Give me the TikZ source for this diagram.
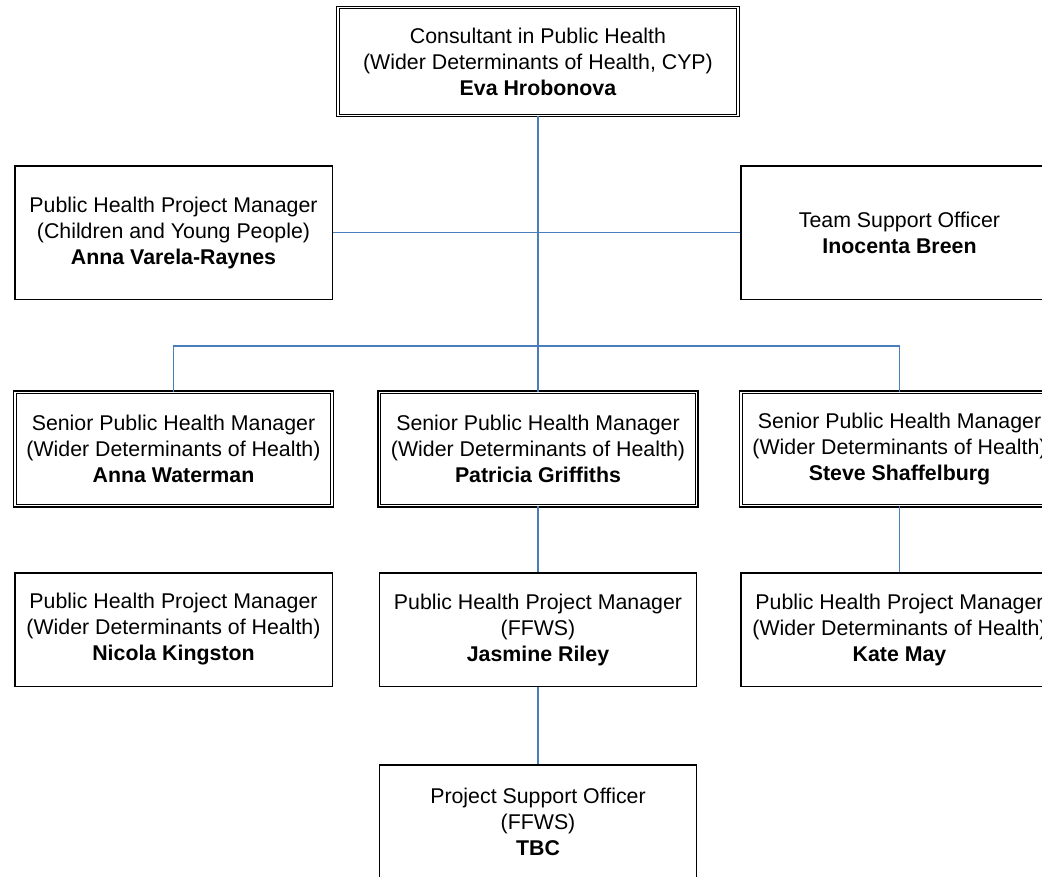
\documentclass[tikz,border=0pt]{standalone}
\usepackage{fontspec}
\setmainfont{Liberation Sans}
\usetikzlibrary{positioning}
\definecolor{linkblue}{HTML}{4A7EBB}
\tikzset{
  post/.style={draw=black, line width=1pt, fill=white, align=center,
    minimum width=238pt, minimum height=85pt, inner sep=0pt,
    font=\fontsize{16}{19.5}\selectfont},
  headpost/.style={post, double, line width=0.9pt, double distance=1.1pt},
  link/.style={draw=linkblue, line width=1pt}
}
\begin{document}
\begin{tikzpicture}[x=0.75pt, y=-0.75pt]
        \useasboundingbox (0,0) rectangle (1042,876);
        \clip (0,0) rectangle (1042,876);

        % consultant
        \node[headpost, minimum width=300pt, minimum height=81pt] (cons) at (538,61.5)
          {Consultant in Public Health\\(Wider Determinants of Health, CYP)\\\textbf{Eva Hrobonova}};

        % second row
        \node[post, minimum height=100pt] (cyp) at (173.5,232.5)
          {Public Health Project Manager\\(Children and Young People)\\\textbf{Anna Varela-Raynes}};
        \node[post, minimum height=100pt] (tso) at (899.5,232.5)
          {Team Support Officer\\\textbf{Inocenta Breen}};

        % senior managers
        \node[headpost] (senA) at (173.5,449) {Senior Public Health Manager\\(Wider Determinants of Health)\\\textbf{Anna Waterman}};
        \node[headpost] (senB) at (538,449) {Senior Public Health Manager\\(Wider Determinants of Health)\\\textbf{Patricia Griffiths}};
        \node[headpost] (senC) at (899.5,449) {Senior Public Health Manager\\(Wider Determinants of Health)\\\textbf{Steve Shaffelburg}};

        % project managers
        \node[post] (pmA) at (173.5,629.5) {Public Health Project Manager\\(Wider Determinants of Health)\\\textbf{Nicola Kingston}};
        \node[post] (pmB) at (538,629.5) {Public Health Project Manager\\(FFWS)\\\textbf{Jasmine Riley}};
        \node[post] (pmC) at (899.5,629.5) {Public Health Project Manager\\(Wider Determinants of Health)\\\textbf{Kate May}};

        \node[post] (pso) at (538,821.5) {Project Support Officer\\(FFWS)\\\textbf{TBC}};

        \coordinate (bus) at (538,346);

        \draw[link] (cons.south) -- (senB.north);
        \draw[link] (cyp.east) -- (tso.west);
        \draw[link] (senA.north) |- (bus) -| (senC.north);
        \draw[link] (senB.south) -- (pmB.north);
        \draw[link] (senC.south) -- (pmC.north);
        \draw[link] (pmB.south) -- (pso.north);
    \end{tikzpicture}
\end{document}
